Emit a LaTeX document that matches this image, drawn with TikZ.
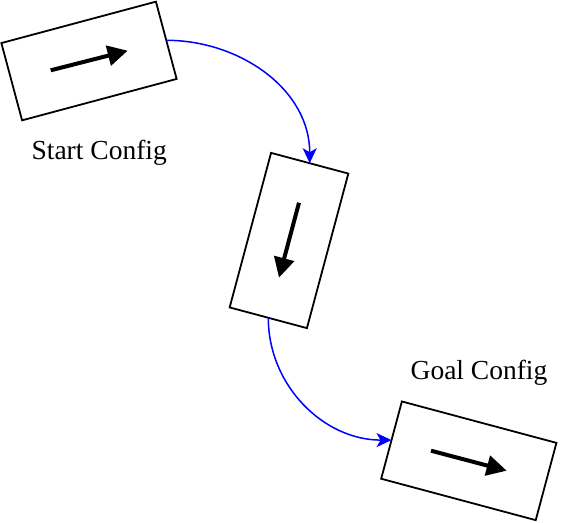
\documentclass[tikz,border=0pt]{standalone}
\usepackage{fontspec}
\setmainfont{Liberation Serif}
\usetikzlibrary{arrows.meta}
\begin{document}
\begin{tikzpicture}[x=1pt,y=-1pt,
  cfgbox/.style={draw=black, line width=1.8pt, minimum width=160pt, minimum height=80pt, inner sep=0pt, outer sep=0pt},
  dirarrow/.style={line width=4pt, -{Triangle[length=20pt,width=20pt]}},
  flow/.style={draw=blue, line width=1.5pt, -{Stealth[length=15pt,width=14pt,inset=4pt]}},
  lbl/.style={font=\fontsize{27.5}{30}\selectfont, anchor=base, inner sep=0pt}]
\useasboundingbox (0,0) rectangle (570,522);
\node[cfgbox, rotate=15] (start) at (89,61) {};
\node[cfgbox, rotate=-15, minimum width=80pt, minimum height=160pt] (mid) at (289,240.5) {};
\node[cfgbox, rotate=-15] (goal) at (468.8,460.8) {};
\coordinate (a1) at (50.7,70.3); \coordinate (b1) at (127.7,50.7);
\coordinate (a2) at (299,202.7); \coordinate (b2) at (279,277.7);
\coordinate (a3) at (431,450.7); \coordinate (b3) at (506.7,470.7);
\draw[dirarrow] (a1) -- (b1);
\draw[dirarrow] (a2) -- (b2);
\draw[dirarrow] (a3) -- (b3);
\node[lbl] (startlbl) at (99.2,159.3) {Start Config};
\node[lbl] (goallbl) at (479,379.3) {Goal Config};
\draw[flow] (start.east) to[out=0,in=90] (mid.north);
\draw[flow] (mid.south) to[out=-90,in=180] (goal.west);
\end{tikzpicture}
\end{document}
